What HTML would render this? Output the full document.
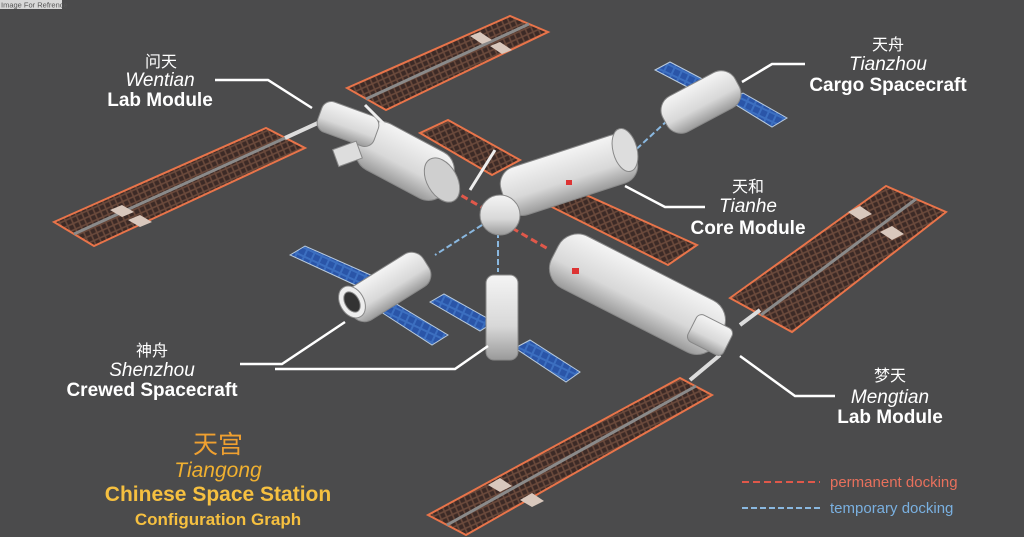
<!DOCTYPE html><html><head><meta charset="utf-8"><style>
html,body{margin:0;padding:0;background:#4b4b4c;}
svg{display:block}
text{font-family:"Liberation Sans","Noto Sans CJK SC",sans-serif;}
</style></head><body>
<svg width="1024" height="537" viewBox="0 0 1024 537" xmlns="http://www.w3.org/2000/svg">
<defs>
<pattern id="cells" width="6" height="6" patternUnits="userSpaceOnUse" patternTransform="rotate(-24)">
<rect width="6" height="6" fill="#6b4a3c"/><rect x="0.8" y="0.8" width="4.4" height="4.4" fill="#3c2a26"/>
</pattern>
<pattern id="blue" width="8" height="8" patternUnits="userSpaceOnUse" patternTransform="rotate(25)">
<rect width="8" height="8" fill="#3c6fc0"/><rect x="1" y="1" width="6" height="6" fill="#2a55a8"/>
</pattern>
<linearGradient id="mod" x1="0" y1="0" x2="0" y2="1"><stop offset="0" stop-color="#f4f4f4"/><stop offset="0.6" stop-color="#d8d8d8"/><stop offset="1" stop-color="#9a9a9a"/></linearGradient>
</defs>
<rect width="1024" height="537" fill="#4b4b4c"/>
<rect x="0" y="0" width="62" height="9" fill="#d8d8d8"/>
<text x="1" y="7.5" font-size="7.5" fill="#555">Image For Refrence</text>

<g stroke="#e8744a" stroke-width="2">
<polygon points="347,88 510,16 548,32 386,110" fill="url(#cells)"/>
<polygon points="54,222 266,128 305,148 94,246" fill="url(#cells)"/>
<polygon points="420,133 448,120 520,160 492,175" fill="url(#cells)"/>
<polygon points="548,205 575,190 697,245 668,265" fill="url(#cells)"/>
<polygon points="730,298 886,186 946,212 792,332" fill="url(#cells)"/>
<polygon points="428,515 680,378 712,395 466,535" fill="url(#cells)"/>
</g>
<g stroke="#8a8a8a" stroke-width="3">
<line x1="366" y1="99" x2="529" y2="24"/>
<line x1="74" y1="234" x2="285" y2="138"/>
<line x1="761" y1="315" x2="916" y2="199"/>
<line x1="447" y1="525" x2="696" y2="386"/>
</g>
<g fill="#d9c8bd">
<polygon points="470,36 480,32 492,40 482,44"/><polygon points="490,46 500,42 512,50 502,54"/>
<polygon points="110,210 122,205 134,212 122,217"/><polygon points="128,220 140,215 152,222 140,227"/>
<polygon points="848,212 860,206 872,214 860,220"/><polygon points="880,232 892,226 904,234 892,240"/>
<polygon points="488,485 500,478 512,486 500,492"/><polygon points="520,500 532,493 544,501 532,507"/>
</g>
<g stroke="#ddd" stroke-width="4">
<line x1="285" y1="138" x2="320" y2="122"/><line x1="740" y1="325" x2="760" y2="310"/><line x1="690" y1="380" x2="720" y2="355"/>
</g>

<g stroke-width="3" stroke-dasharray="7,4">
<line x1="452" y1="190" x2="495" y2="215" stroke="#e0584a"/>
<line x1="512" y1="228" x2="550" y2="250" stroke="#e0584a"/>
</g>
<g stroke-width="2" stroke-dasharray="6,3" stroke="#8ab8e0">
<line x1="482" y1="225" x2="435" y2="255"/>
<line x1="498" y1="232" x2="498" y2="272"/>
<line x1="630" y1="155" x2="668" y2="120"/>
</g>

<g stroke="#bcd" stroke-width="1">
<polygon points="655,70 670,62 712,84 697,92" fill="url(#blue)"/>
<polygon points="728,100 743,93 787,118 772,127" fill="url(#blue)"/>
<polygon points="290,255 305,246 382,280 366,290" fill="url(#blue)"/>
<polygon points="378,310 393,302 448,335 432,345" fill="url(#blue)"/>
<polygon points="430,302 444,294 494,322 480,331" fill="url(#blue)"/>
<polygon points="515,348 530,340 580,372 566,382" fill="url(#blue)"/>
</g>

<g fill="url(#mod)" stroke="#888" stroke-width="1">
<rect x="355" y="135" width="100" height="52" rx="20" transform="rotate(28 405 161)"/>
<ellipse cx="442" cy="180" rx="15" ry="24" transform="rotate(-30 442 180)" fill="#cfcfcf"/>
<rect x="318" y="108" width="60" height="32" rx="10" transform="rotate(20 348 124)"/>
<rect x="335" y="145" width="25" height="18" fill="#ddd" transform="rotate(-20 347 154)"/>
<rect x="500" y="150" width="138" height="50" rx="18" transform="rotate(-18 569 175)"/>
<ellipse cx="625" cy="150" rx="12" ry="22" transform="rotate(-15 625 150)" fill="#ddd"/>
<circle cx="500" cy="215" r="20"/>
<rect x="545" y="265" width="185" height="58" rx="22" transform="rotate(27 637 294)"/>
<rect x="690" y="320" width="40" height="30" rx="6" transform="rotate(27 710 335)"/>
<rect x="660" y="82" width="82" height="40" rx="16" transform="rotate(-28 701 102)"/>
<rect x="343" y="268" width="90" height="38" rx="14" transform="rotate(-32 388 287)"/>
<ellipse cx="352" cy="302" rx="12" ry="17" transform="rotate(-30 352 302)" fill="#eee"/>
<ellipse cx="352" cy="302" rx="7" ry="11" transform="rotate(-30 352 302)" fill="#333"/>
<rect x="486" y="275" width="32" height="85" rx="8"/>
<line x1="470" y1="190" x2="495" y2="150" stroke="#eee" stroke-width="3"/>
<line x1="365" y1="105" x2="385" y2="125" stroke="#eee" stroke-width="3"/>
</g>
<rect x="572" y="268" width="7" height="6" fill="#d33"/>
<rect x="566" y="180" width="6" height="5" fill="#d33"/>

<g stroke="#fff" stroke-width="2.5" fill="none">
<polyline points="215,80 268,80 312,108"/>
<polyline points="805,64 772,64 742,82"/>
<polyline points="705,207 665,207 625,186"/>
<polyline points="835,396 795,396 740,356"/>
<polyline points="240,364 282,364 345,322"/>
<polyline points="275,369 455,369 488,346"/>
</g>

<g fill="#fff" text-anchor="middle">
<text x="161" y="67" font-size="16">问天</text>
<text x="160" y="86" font-size="19" font-style="italic">Wentian</text>
<text x="160" y="106" font-size="19" font-weight="bold">Lab Module</text>
<text x="888" y="50" font-size="16">天舟</text>
<text x="888" y="70" font-size="19" font-style="italic">Tianzhou</text>
<text x="888" y="91" font-size="19" font-weight="bold">Cargo Spacecraft</text>
<text x="748" y="192" font-size="16">天和</text>
<text x="748" y="212" font-size="19" font-style="italic">Tianhe</text>
<text x="748" y="234" font-size="19" font-weight="bold">Core Module</text>
<text x="890" y="381" font-size="16">梦天</text>
<text x="890" y="403" font-size="19" font-style="italic">Mengtian</text>
<text x="890" y="423" font-size="19" font-weight="bold">Lab Module</text>
<text x="152" y="356" font-size="16">神舟</text>
<text x="152" y="376" font-size="19" font-style="italic">Shenzhou</text>
<text x="152" y="396" font-size="19" font-weight="bold">Crewed Spacecraft</text>
</g>
<g text-anchor="middle">
<text x="218" y="453" font-size="25" fill="#f0a030">天宫</text>
<text x="218" y="477" font-size="21" font-style="italic" fill="#f0b030">Tiangong</text>
<text x="218" y="501" font-size="21" font-weight="bold" fill="#f6c040">Chinese Space Station</text>
<text x="218" y="525" font-size="17" font-weight="bold" fill="#f6c040">Configuration Graph</text>
</g>
<line x1="742" y1="482" x2="820" y2="482" stroke="#e0584a" stroke-width="2" stroke-dasharray="7,4"/>
<line x1="742" y1="508" x2="820" y2="508" stroke="#8ab8e0" stroke-width="2" stroke-dasharray="6,3"/>
<text x="830" y="487" font-size="15" fill="#e8705c">permanent docking</text>
<text x="830" y="513" font-size="15" fill="#7ab0e0">temporary docking</text>
</svg>
</body></html>
